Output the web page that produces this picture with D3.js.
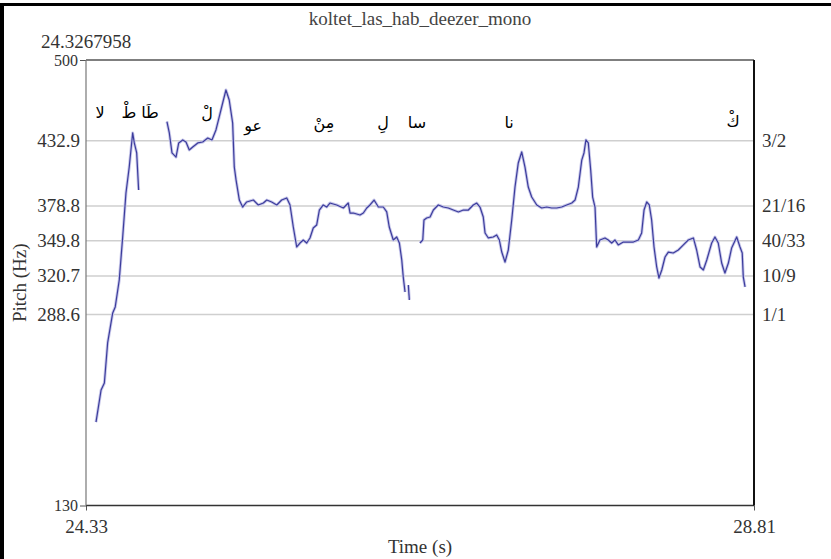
<!DOCTYPE html>
<html>
<head>
<meta charset="utf-8">
<script src="https://cdn.jsdelivr.net/npm/d3@7"></script>
<style>
  body { margin: 0; background: #fff; }
  svg text { font-family: 'Liberation Serif', 'DejaVu Serif', 'Times New Roman', serif; fill: #333; }
  svg text.syl { font-family: 'DejaVu Sans', sans-serif; fill: #000; }
</style>
</head>
<body>
<svg id="chart" width="831" height="559"></svg>
<script>
// Time range of the excerpt (s) and pitch range (Hz)
const startTime = 24.3267958;
const endTime = 28.81;
const pitchMin = 130;
const pitchMax = 500;

// Reference pitches with their ratio names
const gridPitches = [432.9, 378.8, 349.8, 320.7, 288.6];
const ratioLabels = ["3/2", "21/16", "40/33", "10/9", "1/1"];

// Sung syllables, placed at their time and a height in Hz
const syllables = ["لا", "طْ", "طَا", "لْ", "عو", "مِنْ", "لِ", "سا", "نا", "كْ"];
const syllableTimes = [24.421, 24.615, 24.756, 25.139, 25.448, 25.924, 26.320, 26.548, 27.166, 28.669];
const syllablePitches = [456.0, 456.0, 456.0, 455.2, 445.2, 447.7, 448.5, 448.5, 447.7, 449.3];

// Pitch track, voiced stretches
const times1 = [24.394, 24.428, 24.450, 24.472, 24.506, 24.523, 24.550, 24.573, 24.595, 24.617, 24.640, 24.651, 24.667, 24.680];
const pitch1 = [199.3, 225.9, 231.7, 265.0, 289.9, 294.9, 317.3, 353.0, 389.5, 411.1, 439.4, 431.1, 422.8, 392.0];

const times2 = [24.870, 24.886, 24.904, 24.931, 24.949, 24.976, 24.998, 25.020, 25.043, 25.077, 25.110, 25.144, 25.172, 25.199,
  25.221, 25.244, 25.266, 25.288, 25.311, 25.322, 25.334, 25.356, 25.378, 25.405, 25.450, 25.483, 25.517, 25.540, 25.573,
  25.607, 25.640, 25.674, 25.696, 25.718, 25.741, 25.763, 25.785, 25.808, 25.830, 25.852, 25.875, 25.893, 25.919, 25.942,
  25.964, 26.009, 26.054, 26.087, 26.099, 26.121, 26.166, 26.188, 26.211, 26.233, 26.260, 26.289, 26.322, 26.345, 26.362,
  26.389, 26.412, 26.430, 26.446, 26.456, 26.468];
const pitch2 = [448.8, 439.4, 422.8, 419.4, 431.1, 433.6, 431.9, 425.3, 427.7, 431.1, 431.9, 435.2, 433.6, 441.9,
  452.7, 464.3, 475.1, 466.8, 447.7, 411.1, 400.3, 383.7, 377.9, 382.1, 383.7, 379.6, 381.2, 383.7, 382.1,
  379.6, 383.7, 385.4, 379.6, 361.3, 344.7, 348.0, 350.5, 348.0, 352.2, 360.5, 363.0, 375.4, 379.6, 377.9,
  381.2, 379.6, 377.1, 381.2, 372.9, 372.9, 371.3, 372.9, 377.1, 379.6, 383.7, 377.9, 377.9, 373.8, 361.3,
  350.5, 353.0, 348.0, 333.9, 319.8, 307.3];

const times3 = [26.490, 26.497];
const pitch3 = [313.1, 300.7];

const times4 = [26.568, 26.587, 26.595, 26.613, 26.636, 26.658, 26.691, 26.725, 26.758, 26.792, 26.826, 26.859, 26.893, 26.926,
  26.949, 26.971, 26.993, 27.005, 27.027, 27.060, 27.083, 27.101, 27.117, 27.139, 27.161, 27.184, 27.206, 27.228, 27.251,
  27.273, 27.295, 27.318, 27.352, 27.385, 27.419, 27.452, 27.486, 27.519, 27.553, 27.587, 27.609, 27.631, 27.654, 27.669,
  27.682, 27.698, 27.714, 27.727, 27.743, 27.754, 27.776, 27.810, 27.832, 27.855, 27.877, 27.899, 27.933, 27.966, 28.000,
  28.034, 28.056, 28.072, 28.090, 28.107, 28.123, 28.139, 28.157, 28.172, 28.191, 28.213, 28.235, 28.268, 28.302, 28.336,
  28.369, 28.403, 28.425, 28.448, 28.470, 28.493, 28.526, 28.548, 28.570, 28.593, 28.615, 28.638, 28.660, 28.694, 28.716,
  28.731, 28.738, 28.750];
const pitch4 = [348.0, 350.5, 367.1, 368.8, 369.6, 375.4, 379.6, 377.9, 377.1, 375.4, 373.8, 375.4, 375.4, 379.6,
  381.2, 377.9, 369.6, 356.3, 352.2, 353.0, 354.7, 350.5, 340.5, 332.2, 342.2, 367.1, 394.5, 414.5, 423.6,
  411.1, 394.5, 386.2, 379.6, 377.1, 377.9, 377.1, 377.1, 377.9, 379.6, 381.2, 383.7, 394.5, 416.9, 422.8,
  433.6, 431.1, 408.6, 386.2, 377.9, 344.7, 350.5, 352.2, 350.5, 348.0, 350.5, 346.4, 348.8, 348.8, 348.8,
  350.5, 356.3, 375.4, 382.1, 379.6, 367.1, 344.7, 328.1, 318.9, 325.6, 336.4, 340.5, 339.7, 342.2, 346.4,
  350.5, 352.2, 342.2, 328.1, 325.6, 333.9, 348.0, 353.0, 348.0, 331.4, 323.1, 331.4, 343.9, 353.0, 344.7,
  339.7, 319.8, 311.5];

const segments = [[times1, pitch1], [times2, pitch2], [times3, pitch3], [times4, pitch4]]
  .map(([ts, fs]) => ts.map((t, i) => ({ t, f: fs[i] })));

const svg = d3.select("#chart");
const W = 831, H = 559;
const plot = { left: 86, right: 754, top: 60, bottom: 505.5 };

const x = d3.scaleLinear().domain([startTime, endTime]).range([plot.left, plot.right]);
const y = d3.scaleLinear().domain([pitchMin, pitchMax]).range([plot.bottom, plot.top]);

// outer frame edges
svg.append("rect").attr("x", 0).attr("y", 3).attr("width", W).attr("height", 3).attr("fill", "#000");
svg.append("rect").attr("x", 0).attr("y", 3).attr("width", 4).attr("height", H - 3).attr("fill", "#000");

// horizontal reference lines
svg.append("g").selectAll("line").data(gridPitches).join("line")
  .attr("x1", plot.left).attr("x2", plot.right)
  .attr("y1", d => y(d)).attr("y2", d => y(d))
  .attr("stroke", "#cfcfcf").attr("stroke-width", 1.5);

// Hz labels on the left
svg.append("g").selectAll("text").data(gridPitches).join("text")
  .attr("x", plot.left - 6).attr("y", d => y(d))
  .attr("text-anchor", "end").attr("dominant-baseline", "central")
  .style("font-size", "19px")
  .text(d => d.toFixed(1));

// ratio labels on the right
svg.append("g").selectAll("text").data(gridPitches).join("text")
  .attr("x", plot.right + 8).attr("y", d => y(d))
  .attr("dominant-baseline", "central")
  .style("font-size", "19px")
  .text((d, i) => ratioLabels[i]);

// axes (d3 sets a sans-serif family on the axis group; clear it so the stylesheet applies)
const yAxis = d3.axisLeft(y).tickValues([pitchMin, pitchMax]).tickSize(6).tickPadding(2).tickFormat(d3.format("d"));
const gy = svg.append("g").attr("transform", `translate(${plot.left},0)`).call(yAxis)
  .attr("font-family", null).attr("font-size", null);
gy.select(".domain").remove();
gy.selectAll(".tick line").attr("stroke", "#555");
gy.selectAll(".tick text").style("font-size", "16px").attr("fill", null);

const xAxis = d3.axisBottom(x).tickValues([startTime, endTime]).tickSize(5).tickPadding(9).tickFormat(d3.format(".2f"));
const gx = svg.append("g").attr("transform", `translate(0,${plot.bottom})`).call(xAxis)
  .attr("font-family", null).attr("font-size", null);
gx.select(".domain").remove();
gx.selectAll(".tick line").attr("stroke", "#555");
gx.selectAll(".tick text").style("font-size", "19px").attr("fill", null);

// plot frame
svg.append("line").attr("x1", plot.left).attr("x2", plot.right).attr("y1", plot.top).attr("y2", plot.top)
  .attr("stroke", "#555").attr("stroke-width", 1.5);
svg.append("line").attr("x1", plot.left).attr("x2", plot.right).attr("y1", plot.bottom).attr("y2", plot.bottom)
  .attr("stroke", "#333").attr("stroke-width", 1.5);
svg.append("line").attr("x1", plot.left).attr("x2", plot.left).attr("y1", plot.top).attr("y2", plot.bottom)
  .attr("stroke", "#777").attr("stroke-width", 1.2);
svg.append("line").attr("x1", plot.right).attr("x2", plot.right).attr("y1", plot.top).attr("y2", plot.bottom)
  .attr("stroke", "#111").attr("stroke-width", 2);

// pitch contour
const line = d3.line().x(d => x(d.t)).y(d => y(d.f));
const track = svg.append("g");
track.selectAll("path.halo").data(segments).join("path").attr("class", "halo")
  .attr("d", line).attr("fill", "none").attr("stroke", "#c8c8ea").attr("stroke-width", 3).attr("stroke-linejoin", "round");
track.selectAll("path.pitch").data(segments).join("path").attr("class", "pitch")
  .attr("d", line).attr("fill", "none").attr("stroke", "#3c3c9c").attr("stroke-width", 1.2).attr("stroke-linejoin", "round");

// syllables
svg.append("g").selectAll("text").data(syllables).join("text")
  .attr("class", "syl")
  .attr("x", (d, i) => x(syllableTimes[i])).attr("y", (d, i) => y(syllablePitches[i]))
  .attr("text-anchor", "middle").attr("dominant-baseline", "central")
  .style("font-size", "16px")
  .attr("direction", "rtl")
  .text(d => d);

// titles
svg.append("text").attr("x", (plot.left + plot.right) / 2).attr("y", 25)
  .attr("text-anchor", "middle").style("font-size", "19px").style("fill", "#444")
  .text("koltet_las_hab_deezer_mono");
svg.append("text").attr("x", x(startTime)).attr("y", 48)
  .attr("text-anchor", "middle").style("font-size", "19px")
  .text(String(startTime));
svg.append("text").attr("x", (plot.left + plot.right) / 2).attr("y", 553)
  .attr("text-anchor", "middle").style("font-size", "19px")
  .text("Time (s)");
svg.append("text")
  .attr("transform", `translate(26,${(plot.top + plot.bottom) / 2}) rotate(-90)`)
  .attr("text-anchor", "middle").style("font-size", "19px")
  .text("Pitch (Hz)");
</script>
</body>
</html>
